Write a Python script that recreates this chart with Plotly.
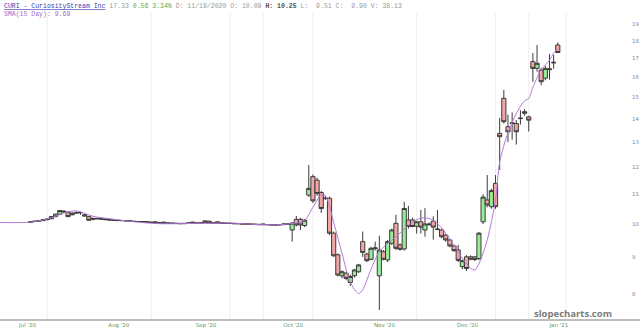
import pandas as pd
import plotly.graph_objects as go

# ---- data ----
holidays = ["2020-07-03", "2020-09-07", "2020-11-26", "2020-12-25", "2021-01-01", "2021-01-18"]
trading_days = [d.strftime("%Y-%m-%d") for d in pd.bdate_range("2020-06-22", "2021-01-29")
                if d.strftime("%Y-%m-%d") not in holidays]

open_ = [10.05, 10.08, 10.09, 10.11, 10.14, 10.17, 10.24, 10.32, 10.42, 10.38,
         10.30, 10.36, 10.37, 10.30, 10.24, 10.15, 10.18, 10.17, 10.16, 10.14,
         10.13, 10.12, 10.11, 10.11, 10.10, 10.09, 10.08, 10.08, 10.07, 10.06,
         10.07, 10.03, 10.06, 10.02, 10.03, 10.02, 10.02, 10.01, 10.02, 10.06,
         10.02, 10.03, 10.10, 10.09, 10.03, 10.07, 10.03, 10.03, 10.02, 10.02,
         10.01, 10.01, 10.00, 10.00, 9.99, 9.99, 10.00, 9.98, 9.98, 9.97,
         9.97, 9.98,
         10.00, 9.81, 10.15, 10.15, 9.95, 10.97, 11.64, 11.51, 11.06, 10.87,
         10.86, 9.71, 9.06, 8.47, 8.54, 8.29, 8.47, 8.58, 9.45, 9.08,
         8.93, 9.24, 8.47, 9.15, 8.91, 9.40, 10.02, 9.35, 9.23, 10.13,
         10.13, 9.93, 10.07, 9.81, 10.00, 10.09, 9.84, 9.81, 9.65, 9.50,
         9.32, 9.20, 8.72, 9.00, 9.00, 9.00, 8.95, 10.07, 10.80, 10.57,
         11.39, 13.37, 14.96, 13.66, 13.83, 13.80, 14.02, 14.26, 14.10, 16.83,
         16.47, 16.38, 15.96, 16.40, 16.80, 17.75]
high = [10.09, 10.10, 10.12, 10.15, 10.18, 10.26, 10.33, 10.46, 10.45, 10.42,
        10.38, 10.40, 10.40, 10.33, 10.26, 10.20, 10.20, 10.19, 10.18, 10.17,
        10.15, 10.14, 10.13, 10.12, 10.11, 10.10, 10.10, 10.09, 10.08, 10.07,
        10.08, 10.05, 10.07, 10.04, 10.04, 10.03, 10.03, 10.03, 10.04, 10.07,
        10.04, 10.04, 10.11, 10.10, 10.05, 10.08, 10.04, 10.04, 10.03, 10.03,
        10.02, 10.02, 10.01, 10.01, 10.00, 10.00, 10.01, 9.99, 9.99, 9.98,
        9.99, 10.01,
        10.03, 10.05, 10.26, 10.20, 10.16, 12.08, 11.72, 11.60, 11.12, 10.95,
        10.92, 9.76, 9.10, 8.62, 8.58, 8.50, 8.66, 8.80, 9.76, 9.12,
        9.30, 9.45, 9.63, 9.20, 9.50, 9.85, 10.30, 9.40, 10.74, 10.60,
        10.20, 10.10, 10.46, 10.52, 10.05, 10.25, 10.46, 9.85, 9.68, 9.52,
        9.35, 9.35, 8.92, 9.05, 9.04, 9.03, 9.75, 11.00, 11.70, 11.20,
        11.70, 14.05, 15.37, 14.20, 14.30, 13.95, 14.40, 14.45, 14.15, 17.30,
        17.75, 16.50, 16.60, 17.25, 17.20, 17.90]
low = [10.03, 10.06, 10.07, 10.09, 10.12, 10.15, 10.22, 10.30, 10.36, 10.22,
       10.28, 10.33, 10.30, 10.24, 10.10, 10.12, 10.15, 10.14, 10.13, 10.12,
       10.11, 10.10, 10.09, 10.08, 10.07, 10.06, 10.06, 10.05, 10.04, 10.03,
       10.02, 10.02, 10.01, 10.01, 10.01, 10.00, 10.00, 10.00, 10.01, 10.01,
       10.01, 10.02, 10.03, 10.02, 10.02, 10.02, 10.02, 10.01, 10.01, 10.00,
       10.00, 9.99, 9.99, 9.98, 9.98, 9.97, 9.97, 9.96, 9.96, 9.95,
       9.96, 9.97,
       9.97, 9.45, 9.92, 9.81, 9.90, 10.90, 10.70, 10.95, 10.36, 10.80,
       9.65, 9.00, 8.45, 8.40, 8.35, 8.20, 8.42, 8.55, 9.00, 8.85,
       8.90, 9.18, 7.59, 8.90, 8.85, 9.35, 9.20, 9.18, 9.18, 9.85,
       9.90, 9.70, 9.70, 9.60, 9.95, 9.51, 9.80, 9.55, 9.45, 9.28,
       9.15, 8.85, 8.65, 8.60, 8.90, 8.88, 8.90, 10.00, 10.55, 10.50,
       10.50, 11.89, 13.80, 13.00, 13.10, 12.90, 13.75, 14.15, 13.45, 15.78,
       16.30, 15.60, 15.85, 15.88, 16.45, 17.30]
close = [10.08, 10.09, 10.11, 10.14, 10.16, 10.24, 10.32, 10.44, 10.40, 10.24,
         10.35, 10.37, 10.37, 10.26, 10.12, 10.18, 10.17, 10.16, 10.14, 10.13,
         10.12, 10.11, 10.11, 10.10, 10.09, 10.08, 10.08, 10.07, 10.06, 10.05,
         10.03, 10.04, 10.02, 10.03, 10.02, 10.02, 10.01, 10.02, 10.03, 10.02,
         10.03, 10.03, 10.04, 10.03, 10.04, 10.03, 10.03, 10.02, 10.02, 10.01,
         10.01, 10.00, 10.00, 9.99, 9.99, 9.98, 9.98, 9.98, 9.97, 9.97,
         9.98, 10.00,
         10.00, 10.03, 9.97, 9.97, 10.12, 11.21, 10.77, 11.03, 10.51, 10.85,
         9.71, 9.03, 8.49, 8.58, 8.40, 8.45, 8.63, 8.77, 9.13, 8.89,
         9.25, 9.26, 9.20, 8.93, 9.45, 9.81, 9.25, 9.22, 10.51, 9.92,
         9.92, 10.07, 9.90, 10.00, 9.98, 9.90, 9.83, 9.60, 9.50, 9.32,
         9.18, 8.90, 8.89, 8.67, 8.93, 8.92, 9.71, 10.90, 10.63, 11.13,
         10.57, 13.23, 13.88, 13.44, 13.81, 13.44, 14.04, 14.33, 13.95, 16.47,
         16.74, 15.78, 16.47, 16.44, 16.77, 17.33]

candle_dates = trading_days[8:8 + len(close)]

sma_dates = ["2020-06-22", "2020-07-02", "2020-07-10", "2020-07-15", "2020-07-20", "2020-07-24",
             "2020-07-30", "2020-08-07", "2020-08-17", "2020-08-31", "2020-09-10", "2020-09-21",
             "2020-09-28", "2020-10-01", "2020-10-06", "2020-10-08", "2020-10-12", "2020-10-13",
             "2020-10-15", "2020-10-19", "2020-10-21", "2020-10-23", "2020-10-26", "2020-10-28",
             "2020-10-30", "2020-11-03", "2020-11-05", "2020-11-10", "2020-11-12", "2020-11-16",
             "2020-11-18", "2020-11-20", "2020-11-25", "2020-11-30", "2020-12-02", "2020-12-03",
             "2020-12-04", "2020-12-08", "2020-12-10", "2020-12-11", "2020-12-15", "2020-12-17",
             "2020-12-21", "2020-12-22", "2020-12-23", "2020-12-28", "2020-12-30", "2020-12-31",
             "2021-01-04"]
sma_values = [10.05, 10.06, 10.20, 10.36, 10.43, 10.25,
              10.17, 10.07, 10.01, 10.02, 10.03, 9.98,
              9.98, 10.02, 10.12, 10.55, 10.98, 10.95,
              10.05, 9.10, 8.30, 8.00, 8.10, 8.65,
              9.15, 9.40, 9.60, 9.95, 10.14, 10.20,
              10.12, 9.87, 9.35, 8.95, 8.68, 8.63,
              8.80, 9.50, 10.80, 12.20, 13.40, 14.25,
              14.85, 14.95, 15.50, 16.40, 16.90, 17.30,
              17.55]

month_ticks = ["2020-07-01", "2020-08-03", "2020-09-01", "2020-10-01", "2020-11-02", "2020-12-01", "2021-01-04"]
month_labels = ["Jul '20", "Aug '20", "Sep '20", "Oct '20", "Nov '20", "Dec '20", "Jan '21"]
price_ticks = [8, 9, 10, 11, 12, 13, 14, 15, 16, 17, 18, 19]
marker_dates = ["2020-07-09", "2020-08-13", "2020-09-10", "2020-09-22", "2020-10-08",
                "2020-11-12", "2020-12-10", "2020-12-22", "2021-01-06"]

# ---- figure ----
fig = go.Figure()
fig.add_trace(go.Candlestick(
    x=candle_dates, open=open_, high=high, low=low, close=close,
    increasing=dict(line=dict(color="#3a3a3a", width=1), fillcolor="#98ec98"),
    decreasing=dict(line=dict(color="#3a3a3a", width=1), fillcolor="#f2a7a7"),
    whiskerwidth=0, showlegend=False, hoverinfo="skip"))
fig.add_trace(go.Scatter(
    x=sma_dates, y=sma_values, mode="lines",
    line=dict(color="#b378d8", width=1, shape="spline", smoothing=0.8),
    showlegend=False, hoverinfo="skip"))

for d in marker_dates:
    fig.add_shape(type="line", xref="x", yref="paper", x0=d, x1=d, y0=0, y1=1,
                  line=dict(color="#efefef", width=1), layer="below")

# bottom rule spanning the full page width (as in the reference)
fig.add_shape(type="line", xref="paper", yref="paper", x0=0, x1=640 / 630, y0=0, y1=0,
              line=dict(color="#a8a8a8", width=1.5))

fig.update_layout(
    width=640, height=334,
    margin=dict(l=0, r=10, t=13, b=14),
    paper_bgcolor="white", plot_bgcolor="white",
    boxgap=0.0, boxgroupgap=0.0,
    xaxis=dict(type="category", categoryorder="array", categoryarray=trading_days,
               range=[0.6, 152.4], rangeslider=dict(visible=False),
               tickvals=month_ticks, ticktext=month_labels, ticklabelshift=1,
               tickfont=dict(family="DejaVu Sans", size=5.5, color="#5d9a5d"),
               showgrid=False, showline=False,
               ticks="", zeroline=False, fixedrange=True),
    yaxis=dict(type="log", range=[0.8663, 1.2938], side="right",
               tickvals=price_ticks, ticktext=[str(v) for v in price_ticks],
               ticklabelstandoff=1,
               tickfont=dict(family="DejaVu Sans", size=5.5, color="#888888"),
               showgrid=False, showline=False, zeroline=False, ticks=""),
    font=dict(family="Liberation Mono"),
)

header = ("<span style='color:#3b3bb0'><u>CURI - CuriosityStream Inc</u></span>"
          "<span style='color:#999999'> 17.33 </span>"
          "<span style='color:#55aa55'>0.56 3.34%</span>"
          "<span style='color:#999999'> D: 11/19/2020 O: 10.09 </span>"
          "<span style='color:#555555'><b>H: 10.25</b></span>"
          "<span style='color:#999999'> L:  9.51 C:  9.90 V: 38.13</span>")
fig.add_annotation(xref="paper", yref="paper", x=0.003, y=1.0228, xanchor="left", yanchor="middle",
                   text=header, showarrow=False,
                   font=dict(family="Liberation Mono", size=6.5, color="#999999"))
fig.add_annotation(xref="paper", yref="paper", x=0.003, y=0.995, xanchor="left", yanchor="middle",
                   text="SMA(15 Day): 9.69", showarrow=False,
                   font=dict(family="Liberation Mono", size=6.5, color="#a66ccc"))
fig.add_annotation(xref="paper", yref="paper", x=0.91, y=0.0228, xanchor="center", yanchor="middle",
                   text="<b>slopecharts.com</b>", showarrow=False,
                   font=dict(family="Open Sans", size=9.5, color="#7a7a7a"))

fig.write_html("out.html")
